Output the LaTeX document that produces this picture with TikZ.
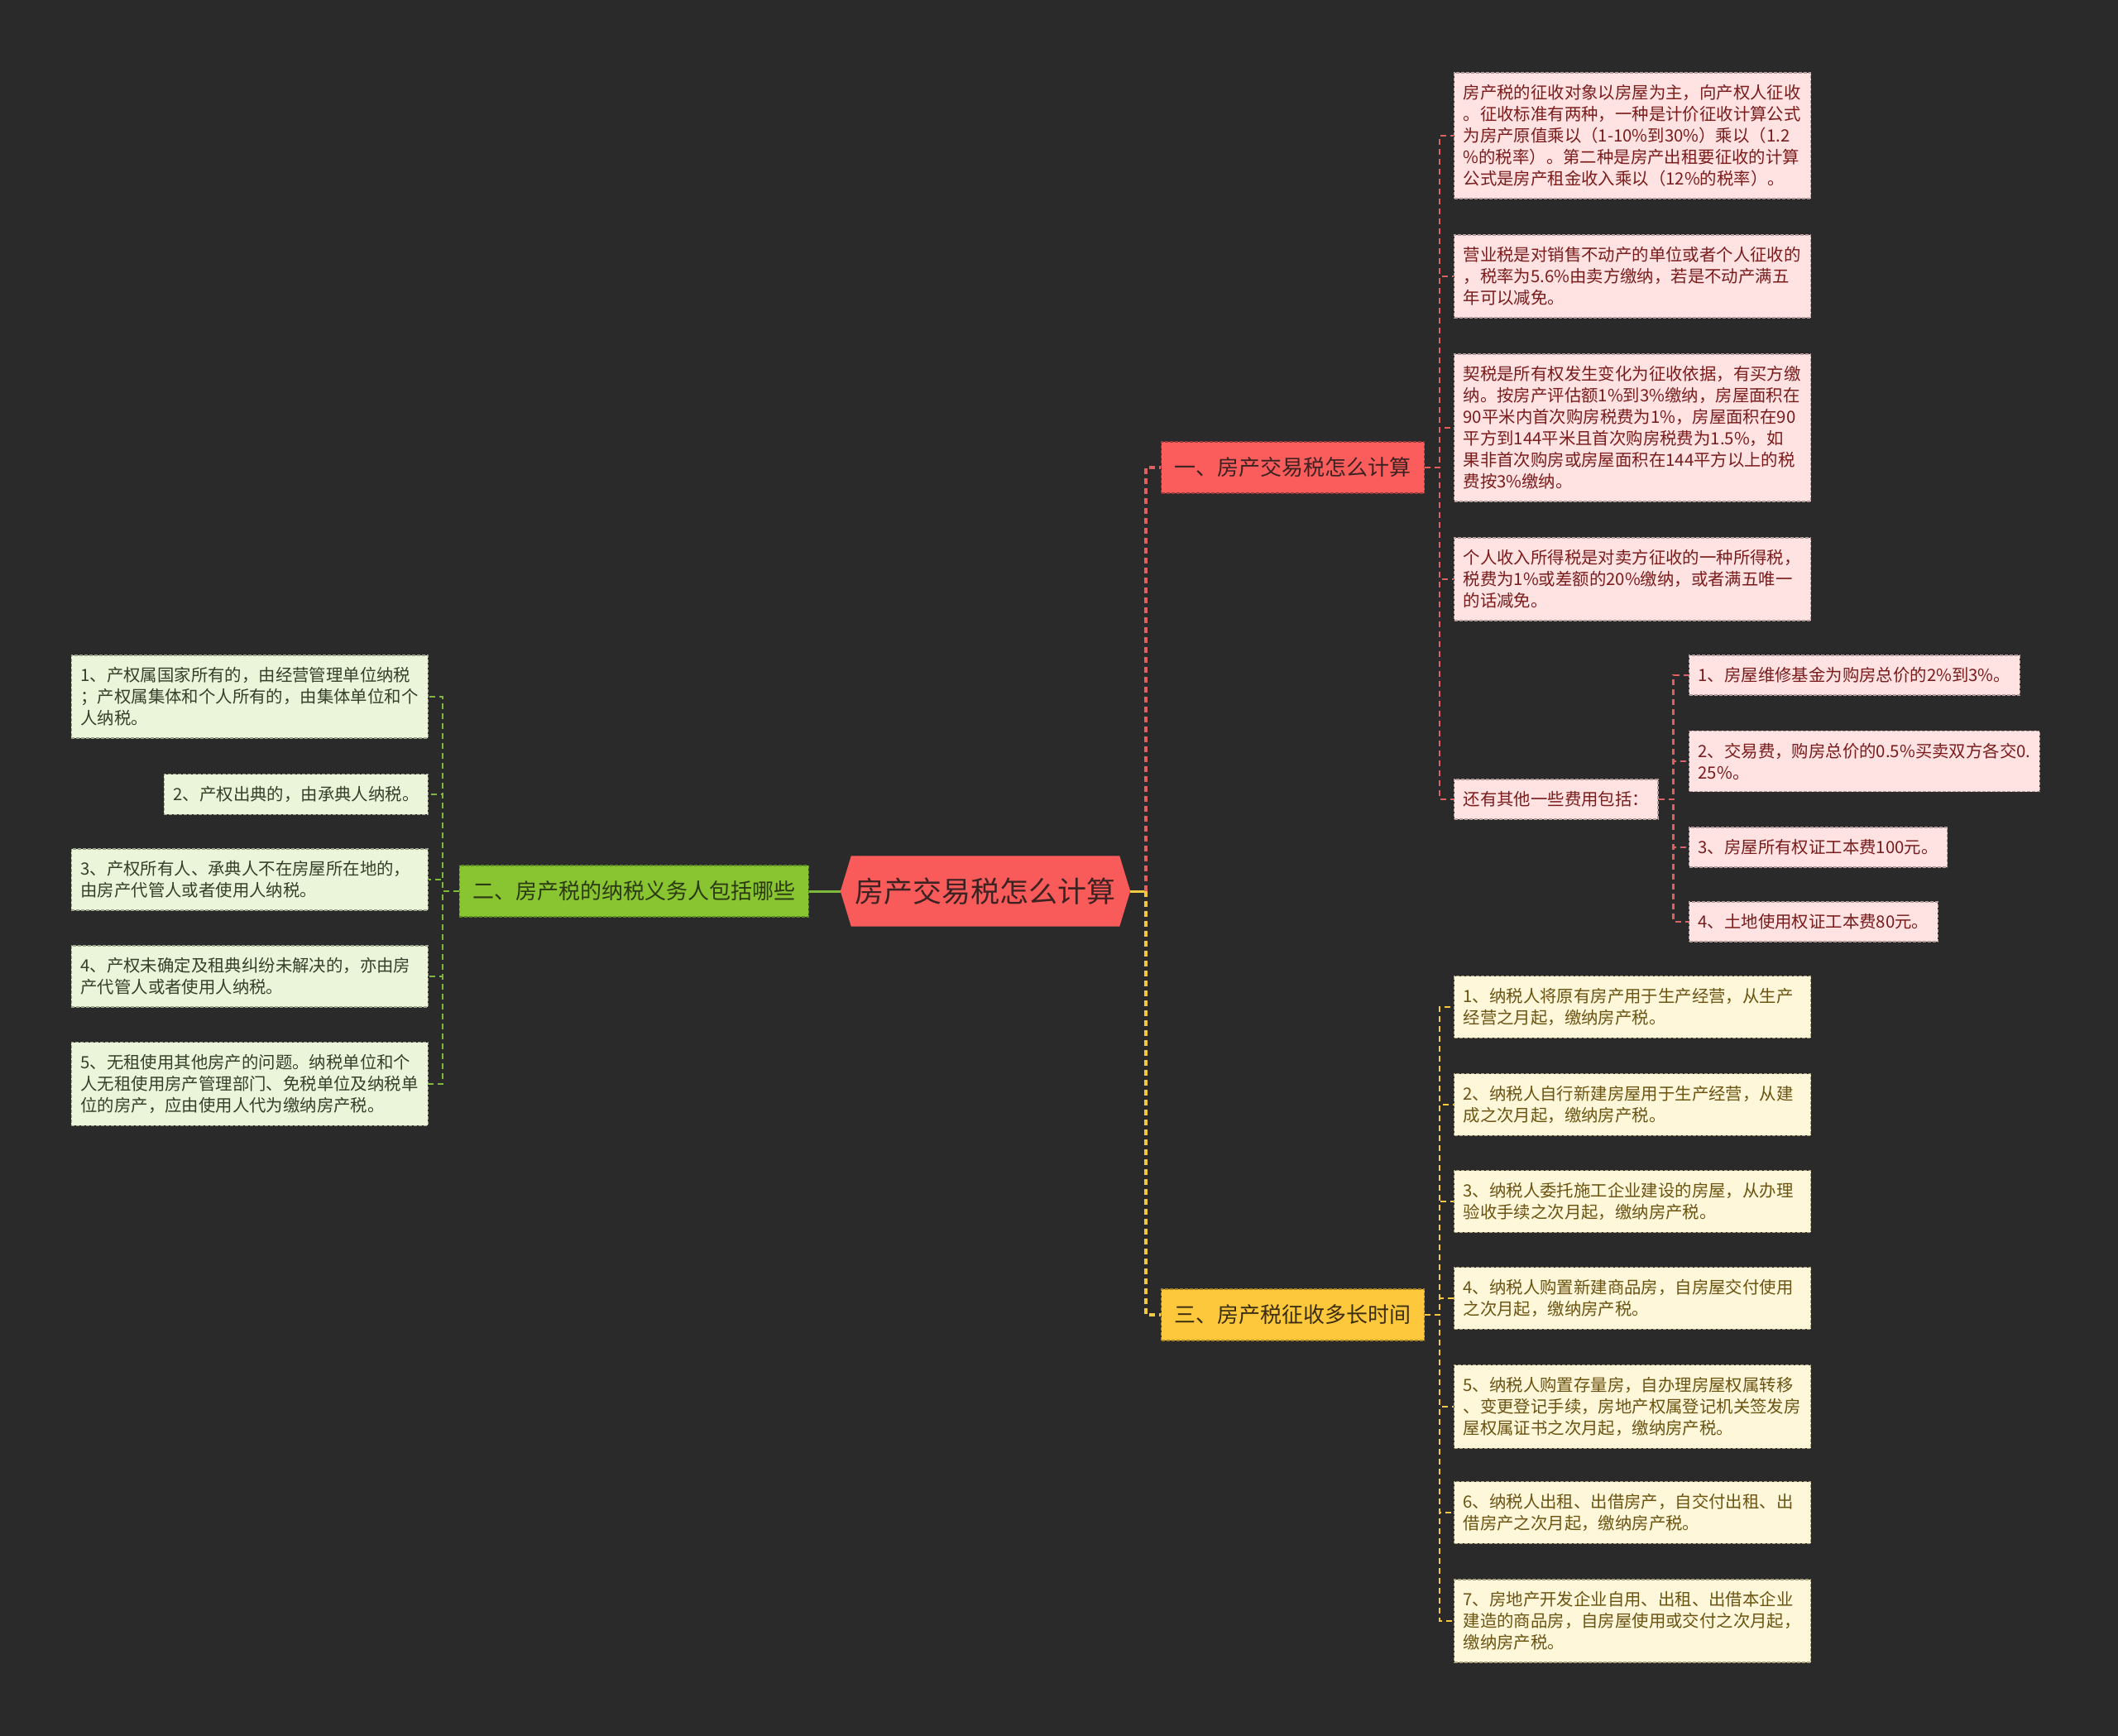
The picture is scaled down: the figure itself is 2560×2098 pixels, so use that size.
\documentclass[tikz,border=0pt]{standalone}
\usepackage{fontspec}
\setmainfont{Noto Sans CJK SC}
\usetikzlibrary{backgrounds}
\definecolor{bgc}{HTML}{2A2A2A}
\definecolor{cfill}{HTML}{F95B5B}
\definecolor{ctext}{HTML}{3D2222}
\definecolor{rfill}{HTML}{FB5D5D}
\definecolor{rline}{HTML}{9A3A3A}
\definecolor{rconn}{HTML}{E35E5E}
\definecolor{rleaffill}{HTML}{FFE3E3}
\definecolor{rleafline}{HTML}{B39C9C}
\definecolor{rleaftext}{HTML}{7A1C1C}
\definecolor{gfill}{HTML}{88C531}
\definecolor{gline}{HTML}{5C8A24}
\definecolor{gconn}{HTML}{7DBA3C}
\definecolor{gtext}{HTML}{2C3A14}
\definecolor{gleaffill}{HTML}{EBF5DA}
\definecolor{gleafline}{HTML}{9AA48A}
\definecolor{gleaftext}{HTML}{34402A}
\definecolor{yfill}{HTML}{FDC83C}
\definecolor{yline}{HTML}{A88424}
\definecolor{yconn}{HTML}{F5C842}
\definecolor{ytext}{HTML}{3B2E10}
\definecolor{yleaffill}{HTML}{FFF7DA}
\definecolor{yleafline}{HTML}{ABA17F}
\definecolor{yleaftext}{HTML}{6B5412}
\tikzset{
  centerbox/.style={minimum width=350pt, minimum height=85pt, inner sep=0pt, text=ctext, font=\fontsize{35}{40}\selectfont},
  branchbase/.style={draw, dash pattern=on 4pt off 2pt, line width=1.2pt, minimum height=62pt, inner xsep=16pt, inner ysep=0pt, font=\fontsize{26}{30}\selectfont},
  rbranch/.style={branchbase, fill=rfill, draw=rline, text=ctext},
  gbranch/.style={branchbase, fill=gfill, draw=gline, text=gtext},
  ybranch/.style={branchbase, fill=yfill, draw=yline, text=ytext},
  leafbase/.style={draw, dash pattern=on 4pt off 2pt, line width=1.2pt, inner xsep=11pt, inner ysep=14.5pt, align=left, font=\fontsize{20.4}{26}\selectfont},
  widebox/.style={text width=409pt},
  rleaf/.style={leafbase, fill=rleaffill, draw=rleafline, text=rleaftext, anchor=west},
  gleaf/.style={leafbase, fill=gleaffill, draw=gleafline, text=gleaftext, anchor=east},
  yleaf/.style={leafbase, fill=yleaffill, draw=yleafline, text=yleaftext, anchor=west},
  rdash/.style={draw=rconn, line width=2.4pt, dash pattern=on 7pt off 5pt},
  gdash/.style={draw=gconn, line width=2.4pt, dash pattern=on 7pt off 5pt},
  ydash/.style={draw=yconn, line width=2.4pt, dash pattern=on 7pt off 5pt},
  ytrunk/.style={draw=yconn, line width=3.2pt, dash pattern=on 7pt off 5pt},
  rtrunk/.style={draw=rconn, line width=3.2pt, dash pattern=on 7pt off 5pt},
}
\begin{document}
\begin{tikzpicture}[x=1pt,y=-1pt]
\begin{pgfonlayer}{background}
\fill[bgc] (0,0) rectangle (2560,2098);
\end{pgfonlayer}
\useasboundingbox (0,0) rectangle (2560,2098);

% center
\node[centerbox] (c) at (1191,1077) {房产交易税怎么计算};
\begin{pgfonlayer}{background}
\fill[cfill] ([xshift=13pt]c.north west) -- ([xshift=-13pt]c.north east) -- (c.east)
  -- ([xshift=-13pt]c.south east) -- ([xshift=13pt]c.south west) -- (c.west) -- cycle;
\end{pgfonlayer}

% main branches
\node[rbranch, anchor=west] (b1) at (1403,565) {一、房产交易税怎么计算};
\node[gbranch, anchor=east] (b2) at (978,1077) {二、房产税的纳税义务人包括哪些};
\node[ybranch, anchor=west] (b3) at (1403,1589) {三、房产税征收多长时间};

% red leaves
\node[rleaf, widebox] (r1) at (1757,164) {房产税的征收对象以房屋为主，向产权人征收\\。征收标准有两种，一种是计价征收计算公式\\为房产原值乘以（1-10\%到30\%）乘以（1.2\\\%的税率）。第二种是房产出租要征收的计算\\公式是房产租金收入乘以（12\%的税率）。};
\node[rleaf, widebox] (r2) at (1757,334) {营业税是对销售不动产的单位或者个人征收的\\，税率为5.6\%由卖方缴纳，若是不动产满五\\年可以减免。};
\node[rleaf, widebox] (r3) at (1757,517) {契税是所有权发生变化为征收依据，有买方缴\\纳。按房产评估额1\%到3\%缴纳，房屋面积在\\90平米内首次购房税费为1\%，房屋面积在90\\平方到144平米且首次购房税费为1.5\%，如\\果非首次购房或房屋面积在144平方以上的税\\费按3\%缴纳。};
\node[rleaf, widebox] (r4) at (1757,700) {个人收入所得税是对卖方征收的一种所得税，\\税费为1\%或差额的20\%缴纳，或者满五唯一\\的话减免。};
\node[rleaf] (r5) at (1757,966) {还有其他一些费用包括：};

\node[rleaf] (s1) at (2041,816) {1、房屋维修基金为购房总价的2\%到3\%。};
\node[rleaf] (s2) at (2041,920) {2、交易费，购房总价的0.5\%买卖双方各交0.\\25\%。};
\node[rleaf] (s3) at (2041,1024) {3、房屋所有权证工本费100元。};
\node[rleaf] (s4) at (2041,1114) {4、土地使用权证工本费80元。};

% green leaves
\node[gleaf, widebox] (g1) at (518,842) {1、产权属国家所有的，由经营管理单位纳税\\；产权属集体和个人所有的，由集体单位和个\\人纳税。};
\node[gleaf] (g2) at (518,960) {2、产权出典的，由承典人纳税。};
\node[gleaf, widebox] (g3) at (518,1063) {3、产权所有人、承典人不在房屋所在地的，\\由房产代管人或者使用人纳税。};
\node[gleaf, widebox] (g4) at (518,1180) {4、产权未确定及租典纠纷未解决的，亦由房\\产代管人或者使用人纳税。};
\node[gleaf, widebox] (g5) at (518,1310) {5、无租使用其他房产的问题。纳税单位和个\\人无租使用房产管理部门、免税单位及纳税单\\位的房产，应由使用人代为缴纳房产税。};

% yellow leaves
\node[yleaf, widebox] (y1) at (1757,1217) {1、纳税人将原有房产用于生产经营，从生产\\经营之月起，缴纳房产税。};
\node[yleaf, widebox] (y2) at (1757,1335) {2、纳税人自行新建房屋用于生产经营，从建\\成之次月起，缴纳房产税。};
\node[yleaf, widebox] (y3) at (1757,1452) {3、纳税人委托施工企业建设的房屋，从办理\\验收手续之次月起，缴纳房产税。};
\node[yleaf, widebox] (y4) at (1757,1569) {4、纳税人购置新建商品房，自房屋交付使用\\之次月起，缴纳房产税。};
\node[yleaf, widebox] (y5) at (1757,1700) {5、纳税人购置存量房，自办理房屋权属转移\\、变更登记手续，房地产权属登记机关签发房\\屋权属证书之次月起，缴纳房产税。};
\node[yleaf, widebox] (y6) at (1757,1828) {6、纳税人出租、出借房产，自交付出租、出\\借房产之次月起，缴纳房产税。};
\node[yleaf, widebox] (y7) at (1757,1959) {7、房地产开发企业自用、出租、出借本企业\\建造的商品房，自房屋使用或交付之次月起，\\缴纳房产税。};

% connectors center
\coordinate (ct) at (1385,1077);
\draw[gconn, line width=3pt] (c.west) -- (b2.east);
\draw[yconn, line width=3pt] (c.east) -- (ct);
\draw[rtrunk] (ct) |- (b1.west);
\draw[ytrunk] (ct) |- (b3.west);

% red
\foreach \n in {r1,r2,r3,r4,r5} \draw[rdash] (b1.east) -- ++(18,0) |- (\n.west);
\foreach \n in {s1,s2,s3,s4} \draw[rdash] (r5.east) -- ++(18,0) |- (\n.west);
% green
\foreach \n in {g1,g2,g3,g4,g5} \draw[gdash] (b2.west) -- ++(-20,0) |- (\n.east);
% yellow
\foreach \n in {y1,y2,y3,y4,y5,y6,y7} \draw[ydash] (b3.east) -- ++(18,0) |- (\n.west);
\end{tikzpicture}
\end{document}
